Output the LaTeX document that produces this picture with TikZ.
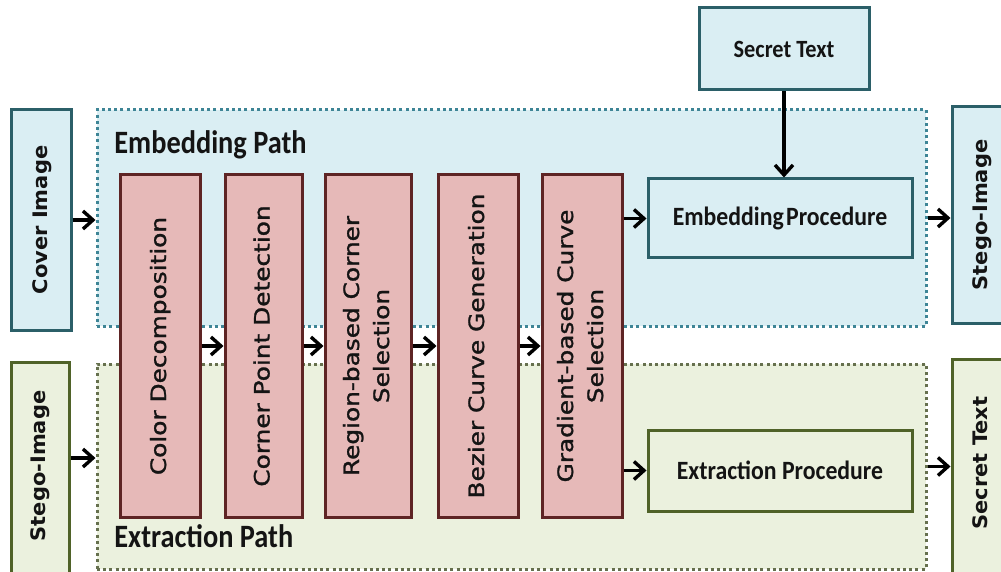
\documentclass[tikz,border=0pt]{standalone}
\usepackage{fontspec}
\setmainfont{Carlito}
\newfontfamily\vfont{DejaVu Sans}
\newfontfamily\stagefam[FakeBold=1.2]{DejaVu Sans}
\usetikzlibrary{arrows.meta}

\definecolor{bluefill}{HTML}{DAEEF3}
\definecolor{blueline}{HTML}{2B5F68}
\definecolor{bluedots}{HTML}{3E8596}
\definecolor{greenfill}{HTML}{EBF1DE}
\definecolor{greenline}{HTML}{4F6228}
\definecolor{greendots}{HTML}{66704E}
\definecolor{redfill}{HTML}{E6B9B8}
\definecolor{redline}{HTML}{5E2424}
\definecolor{ink}{HTML}{141414}

% vertical labels read bottom-to-top, widened along the text
\newcommand{\vlab}[2][1.17]{\rotatebox{90}{\scalebox{#1}[1]{%
  \renewcommand{\arraystretch}{1}\begin{tabular}{@{}c@{}}#2\end{tabular}}}}
\newcommand{\hlab}[2]{\scalebox{#1}[1]{#2}}

\tikzset{
  box/.style={draw, line width=1.5pt, inner sep=0pt, text=ink},
  sidefont/.style={font=\vfont\bfseries\fontsize{10}{15}\selectfont},
  stagefont/.style={font=\stagefam\fontsize{10.6}{15}\selectfont},
  bluebox/.style={box, fill=bluefill, draw=blueline},
  greenbox/.style={box, fill=greenfill, draw=greenline},
  stagebox/.style={box, stagefont, fill=redfill, draw=redline},
  region/.style={line width=1.5pt, dash pattern=on 1.5pt off 1.6pt, inner sep=0pt},
  flow/.style={line width=1.7pt, -{Straight Barb[length=5pt,width=9pt,line width=1.7pt]}},
  pathlabel/.style={anchor=base west, inner sep=0pt, text=ink, font=\bfseries\fontsize{16.3}{18}\selectfont},
}

\begin{document}
\begin{tikzpicture}[x=0.5pt, y=-0.5pt]
\useasboundingbox (0,0) rectangle (1001,572);
\clip (0,0) rectangle (1001,572);

% the two dotted path regions
\node[region, fill=bluefill, draw=bluedots, minimum width=414.5pt, minimum height=108pt] (emb) at (511.5,218) {};
\node[region, fill=greenfill, draw=greendots, minimum width=414.5pt, minimum height=102.5pt] (ext) at (511.5,466.5) {};

\node[pathlabel] (embl) at (114,154) {\hlab{0.87}{Embedding Path}};
\node[pathlabel] (extl) at (114,547) {\hlab{0.87}{Extraction Path}};

% inputs and outputs
\node[bluebox, sidefont, minimum width=30pt, minimum height=110pt] (cover) at (41,220) {\vlab[1.05]{Cover Image}};
\node[greenbox, minimum width=29pt, minimum height=119pt] (stegoin) at (40,481) {};
\node[sidefont, text=ink, inner sep=0pt] (stegoinl) at (40,466) {\vlab[1.05]{Stego-Image}};
\node[bluebox, minimum width=85pt, minimum height=41pt, font=\bfseries\fontsize{12.4}{14}\selectfont] (secret) at (784,49) {\hlab{0.9}{Secret Text}};
\node[bluebox, sidefont, minimum width=29pt, minimum height=108pt] (stegoout) at (981,215) {\vlab[1.05]{Stego-Image}};
\node[greenbox, minimum width=29pt, minimum height=120.5pt] (secretout) at (981,479.5) {};
\node[sidefont, text=ink, inner sep=0pt] (secretoutl) at (981,463) {\vlab[1.05]{Secret Text}};

% shared processing stages
\node[stagebox, minimum width=40pt, minimum height=171pt] (cd) at (160,346) {\vlab{Color Decomposition}};
\node[stagebox, minimum width=38.5pt, minimum height=171pt] (cpd) at (263.5,346) {\vlab{Corner Point Detection}};
\node[stagebox, minimum width=43pt, minimum height=171pt] (rcs) at (368,346) {\vlab{Region-based Corner\\Selection}};
\node[stagebox, minimum width=40pt, minimum height=171pt] (bcg) at (478,346) {\vlab{Bezier Curve Generation}};
\node[stagebox, minimum width=40pt, minimum height=171pt] (gcs) at (582,346) {\vlab{Gradient-based Curve\\Selection}};

% procedures
\node[bluebox, minimum width=132pt, minimum height=39.5pt, font=\bfseries\fontsize{13.2}{15}\selectfont] (embproc) at (780,218.5) {\hlab{0.9}{Embedding\kern0.1em Procedure}};
\node[greenbox, minimum width=132pt, minimum height=40.5pt, font=\bfseries\fontsize{13.2}{15}\selectfont] (extproc) at (780,470.5) {\hlab{0.9}{Extraction Procedure}};

% connectors
\coordinate (inlevel) at (0,458);
\draw[flow] (cover.east) -- (cover.east -| emb.west);
\draw[flow] (stegoin.east |- inlevel) -- (ext.west |- inlevel);
\draw[flow] (cd.east) -- (cpd.west);
\draw[flow] (cpd.east) -- (rcs.west);
\draw[flow] (rcs.east) -- (bcg.west);
\draw[flow] (bcg.east) -- (gcs.west);
\draw[flow] (gcs.east |- embproc.west) -- (embproc.west);
\draw[flow] (gcs.east |- extproc.west) -- (extproc.west);
\draw[flow] (secret.south) -- (secret.south |- embproc.north);
\draw[flow] (emb.east) -- (emb.east -| stegoout.west);
\draw[flow] (ext.east) -- (ext.east -| secretout.west);
\end{tikzpicture}
\end{document}
